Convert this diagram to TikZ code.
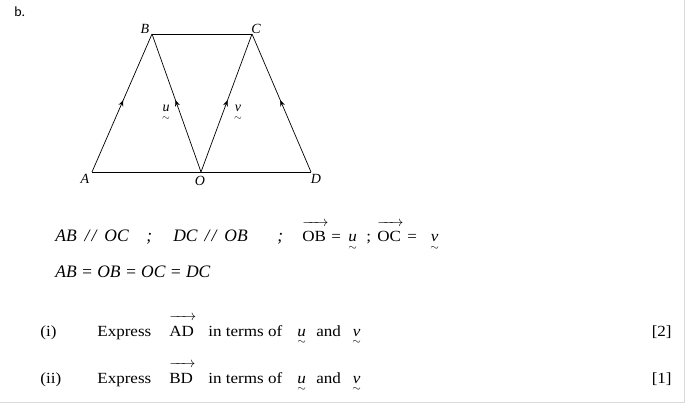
\documentclass[tikz,border=0pt]{standalone}
\usepackage{amsmath}
\usepackage{fontspec}
\setmainfont{Liberation Serif}
\newfontfamily\qfont[FakeStretch=1.1]{Liberation Serif}
\newfontfamily\bfont{Carlito}
\usetikzlibrary{arrows.meta,decorations.markings}
\newcommand{\uvec}[1]{\underset{\sim}{\textit{#1}}}
\newcommand{\arr}[1]{\overrightarrow{\rule{0pt}{15.5pt}\text{#1}\,}}
\tikzset{
  midarrow/.style={decoration={markings,mark=at position 0.52 with {\arrow{Stealth[length=6pt,width=5pt,inset=2pt]}}},postaction={decorate}},
  pt/.style={font=\fontsize{14}{16}\selectfont\itshape,inner sep=0pt},
  geo/.style={font=\fontsize{17.5}{20}\selectfont\itshape,anchor=base west,inner sep=0pt},
  qtext/.style={font=\qfont\fontsize{15.5}{17}\selectfont,anchor=base west,inner sep=0pt},
}
\begin{document}
\begin{tikzpicture}[x=1pt,y=-1pt,line width=0.7pt]
\useasboundingbox (0,0) rectangle (685,403);
\draw[gray!30,line width=1pt] (684.5,0) -- (684.5,402.5) -- (0,402.5);

\node[anchor=base west,inner sep=0pt,font=\bfont\fontsize{14}{16}\selectfont] (part) at (14,17) {b.};

\coordinate (A) at (92,172);
\coordinate (B) at (152,34);
\coordinate (C) at (252,34);
\coordinate (O) at (201,172);
\coordinate (D) at (311,172);

\draw (A) -- (D);
\draw (B) -- (C);
\draw[midarrow] (A) -- (B);
\draw[midarrow] (O) -- (B);
\draw[midarrow] (O) -- (C);
\draw[midarrow] (D) -- (C);

\node[pt] (lA) at (85,179) {A};
\node[pt] (lB) at (145,29) {B};
\node[pt] (lC) at (256,29) {C};
\node[pt] (lO) at (200,181) {O};
\node[pt] (lD) at (316,179) {D};
\node[pt,anchor=base] (lu) at (166,112) {$\uvec{u}$};
\node[pt,anchor=base] (lv) at (238,112) {$\uvec{v}$};

\node[geo] (f1) at (55,242) {AB\hspace{8pt}/\hspace{2pt}/\hspace{8pt}OC};
\node[geo] (f2) at (146,242) {;};
\node[geo] (f3) at (173,242) {DC\hspace{7pt}/\hspace{2pt}/\hspace{8pt}OB};
\node[geo] (f4) at (277,242) {;};
\node[qtext] (f5) at (302,242) {$\arr{OB}$};
\node[qtext] (f6) at (331,242) {=};
\node[qtext] (f7) at (348,242) {$\uvec{u}$};
\node[qtext] (f8) at (366,242) {;};
\node[qtext] (f9) at (377,242) {$\arr{OC}$};
\node[qtext] (f10) at (407,242) {=};
\node[qtext] (f11) at (430,242) {$\uvec{v}$};
\node[geo] (g1) at (55,278) {AB = OB = OC = DC};

\node[qtext] (n1) at (40,336) {(i)};
\node[qtext] (e1) at (97,336) {Express};
\node[qtext] (a1) at (169,336) {$\arr{AD}$};
\node[qtext] (t1) at (208,336) {in terms of};
\node[qtext] (u1) at (297,336) {$\uvec{u}$};
\node[qtext] (k1) at (316,336) {and};
\node[qtext] (v1) at (352,336) {$\uvec{v}$};
\node[qtext,anchor=base east] (m1) at (672,336) {[2]};

\node[qtext] (n2) at (40,383) {(ii)};
\node[qtext] (e2) at (97,383) {Express};
\node[qtext] (a2) at (169,383) {$\arr{BD}$};
\node[qtext] (t2) at (208,383) {in terms of};
\node[qtext] (u2) at (297,383) {$\uvec{u}$};
\node[qtext] (k2) at (316,383) {and};
\node[qtext] (v2) at (352,383) {$\uvec{v}$};
\node[qtext,anchor=base east] (m2) at (672,383) {[1]};
\end{tikzpicture}
\end{document}
